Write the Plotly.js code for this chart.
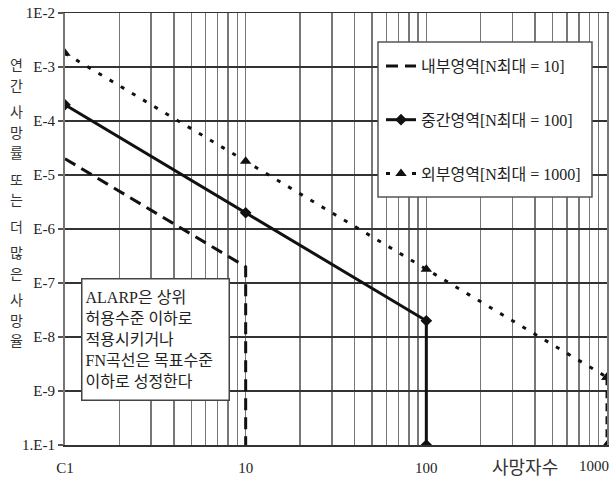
<!DOCTYPE html>
<html>
<head>
<meta charset="utf-8">
<script src="https://cdn.plot.ly/plotly-3.0.1.min.js"></script>
<style>html,body{margin:0;padding:0;background:#fff;}#chart{width:614px;height:481px;}</style>
</head>
<body>
<div id="chart"></div>
<script>
// ---- data ----
const innerX = [1, 10, 10];
const innerY = [2e-5, 2e-7, 1e-10];
const middleX = [1, 10, 100, 100];
const middleY = [2e-4, 2e-6, 2e-8, 1e-10];
const outerX = [1, 10, 100, 1000];
const outerY = [1.8e-3, 1.8e-5, 1.8e-7, 1.8e-9];
const outerDropX = [1000, 1000];
const outerDropY = [1.8e-9, 1e-10];

const seriesNames = ['내부영역[N최대 = 10]', '중간영역[N최대 = 100]', '외부영역[N최대 = 1000]'];
const yTickVals = [1e-2, 1e-3, 1e-4, 1e-5, 1e-6, 1e-7, 1e-8, 1e-9, 1e-10];
const yTickText = ['1E-2', 'E-3', 'E-4', 'E-5', 'E-6', 'E-7', 'E-8', 'E-9', '1.E-1'];
const xTickVals = [1, 10, 100];
const xTickText = ['C1', '10', '100'];
const xLastLabel = '1000';
const xTitle = '사망자수';
const yTitleWords = ['연간', '사망률', '또는', '더', '많은', '사망율'];
const noteText = 'ALARP은 상위<br>허용수준 이하로<br>적용시키거나<br>FN곡선은 목표수준<br>이하로 성정한다';

// ---- layout helpers ----
const FONT = 'Liberation Serif, Noto Sans CJK KR, serif';
const W = 614, H = 481, mL = 65, mR = 7, mT = 13, mB = 36;
const plotW = W - mL - mR, plotH = H - mT - mB;
const px2x = p => (p - mL) / plotW;
const px2y = p => (H - mB - p) / plotH;

// minor grid at 2..9 of each decade
const minorVals = [];
[1, 10, 100].forEach(d => { for (let k = 2; k <= 9; k++) minorVals.push(k * d); });

const traces = [
  {x: innerX, y: innerY, name: seriesNames[0], mode: 'lines', legendgroup: 'a',
   line: {color: '#111', width: 3, dash: '12px,7px'}},
  {x: middleX, y: middleY, name: seriesNames[1], mode: 'lines+markers', legendgroup: 'b',
   line: {color: '#111', width: 3}, marker: {symbol: 'diamond', size: 9, color: '#111'}},
  {x: outerX, y: outerY, name: seriesNames[2], mode: 'lines+markers', legendgroup: 'c',
   line: {color: '#111', width: 3, dash: '4px,9px'}, marker: {symbol: 'triangle-up', size: 10, color: '#111'}},
  {x: outerDropX, y: outerDropY, mode: 'lines+markers', legendgroup: 'c', showlegend: false,
   line: {color: '#111', width: 3, dash: '8px,5px'}, marker: {symbol: 'triangle-up', size: 10, color: '#111'}}
];

const annotations = [];
// y title: stacked vertical characters, grouped by word
const TSIZE = 14, STEP = 20.5, TOP = 64, BOTTOM = 340;
const nChars = yTitleWords.reduce((s, w) => s + Array.from(w).length, 0);
const wordStep = (BOTTOM - TOP - (nChars - yTitleWords.length) * STEP) / (yTitleWords.length - 1);
let py = TOP;
yTitleWords.forEach((w, wi) => {
  Array.from(w).forEach((ch, ci) => {
    if (ci > 0) py += STEP;
    annotations.push({xref: 'paper', yref: 'paper', x: px2x(16), y: px2y(py), text: ch,
      showarrow: false, xanchor: 'center', yanchor: 'middle', borderpad: 0,
      font: {family: 'Noto Sans CJK KR', size: TSIZE, color: '#333'}});
  });
  py += wordStep;
});
annotations.push({xref: 'x', yref: 'paper', x: 3, y: px2y(466), text: xLastLabel, showarrow: false,
  xanchor: 'right', yanchor: 'middle', xshift: 4, font: {family: FONT, size: 15, color: '#222'}});
annotations.push({xref: 'paper', yref: 'paper', x: px2x(525), y: px2y(466), text: xTitle, showarrow: false,
  xanchor: 'center', yanchor: 'middle', font: {family: 'Noto Sans CJK KR', size: 18, color: '#333'}});
annotations.push({xref: 'paper', yref: 'paper', x: px2x(81), y: px2y(278), text: noteText, showarrow: false,
  xanchor: 'left', yanchor: 'top', align: 'left', valign: 'middle', width: 140, height: 114, borderpad: 3,
  bgcolor: '#fff', bordercolor: '#444', borderwidth: 1.5,
  font: {family: FONT, size: 16, color: '#222'}});

const layout = {
  width: W, height: H,
  margin: {l: mL, r: mR, t: mT, b: mB},
  paper_bgcolor: '#fff', plot_bgcolor: '#fff',
  showlegend: true,
  legend: {x: px2x(381), y: px2y(49), xanchor: 'left', yanchor: 'top', bgcolor: 'rgba(0,0,0,0)',
    borderwidth: 0, traceorder: 'grouped', tracegroupgap: 30,
    font: {family: FONT, size: 16, color: '#222'}},
  shapes: [{type: 'rect', xref: 'paper', yref: 'paper', layer: 'above',
    x0: px2x(378), x1: px2x(592), y0: px2y(42), y1: px2y(197),
    fillcolor: '#fff', line: {color: '#555', width: 1.5}}],
  xaxis: {type: 'log', range: [0, 3], tickvals: xTickVals, ticktext: xTickText,
    showgrid: true, gridcolor: '#777', gridwidth: 1.5, zeroline: false,
    minor: {tickvals: minorVals, showgrid: true, gridcolor: '#777', gridwidth: 1.5, ticks: ''},
    showline: true, linecolor: '#333', linewidth: 1.5, mirror: true, ticks: '',
    ticklabelstandoff: 8, tickfont: {family: FONT, size: 15, color: '#222'}},
  yaxis: {type: 'log', range: [-10, -2], tickvals: yTickVals, ticktext: yTickText,
    showgrid: true, gridcolor: '#333', gridwidth: 1.5, zeroline: false,
    showline: true, linecolor: '#777', linewidth: 2, mirror: true,
    ticks: 'outside', ticklen: 5, tickcolor: '#555', tickwidth: 1.5,
    tickfont: {family: FONT, size: 15, color: '#222'}},
  annotations: annotations
};

Plotly.newPlot('chart', traces, layout, {displayModeBar: false, staticPlot: true});
</script>
</body>
</html>
